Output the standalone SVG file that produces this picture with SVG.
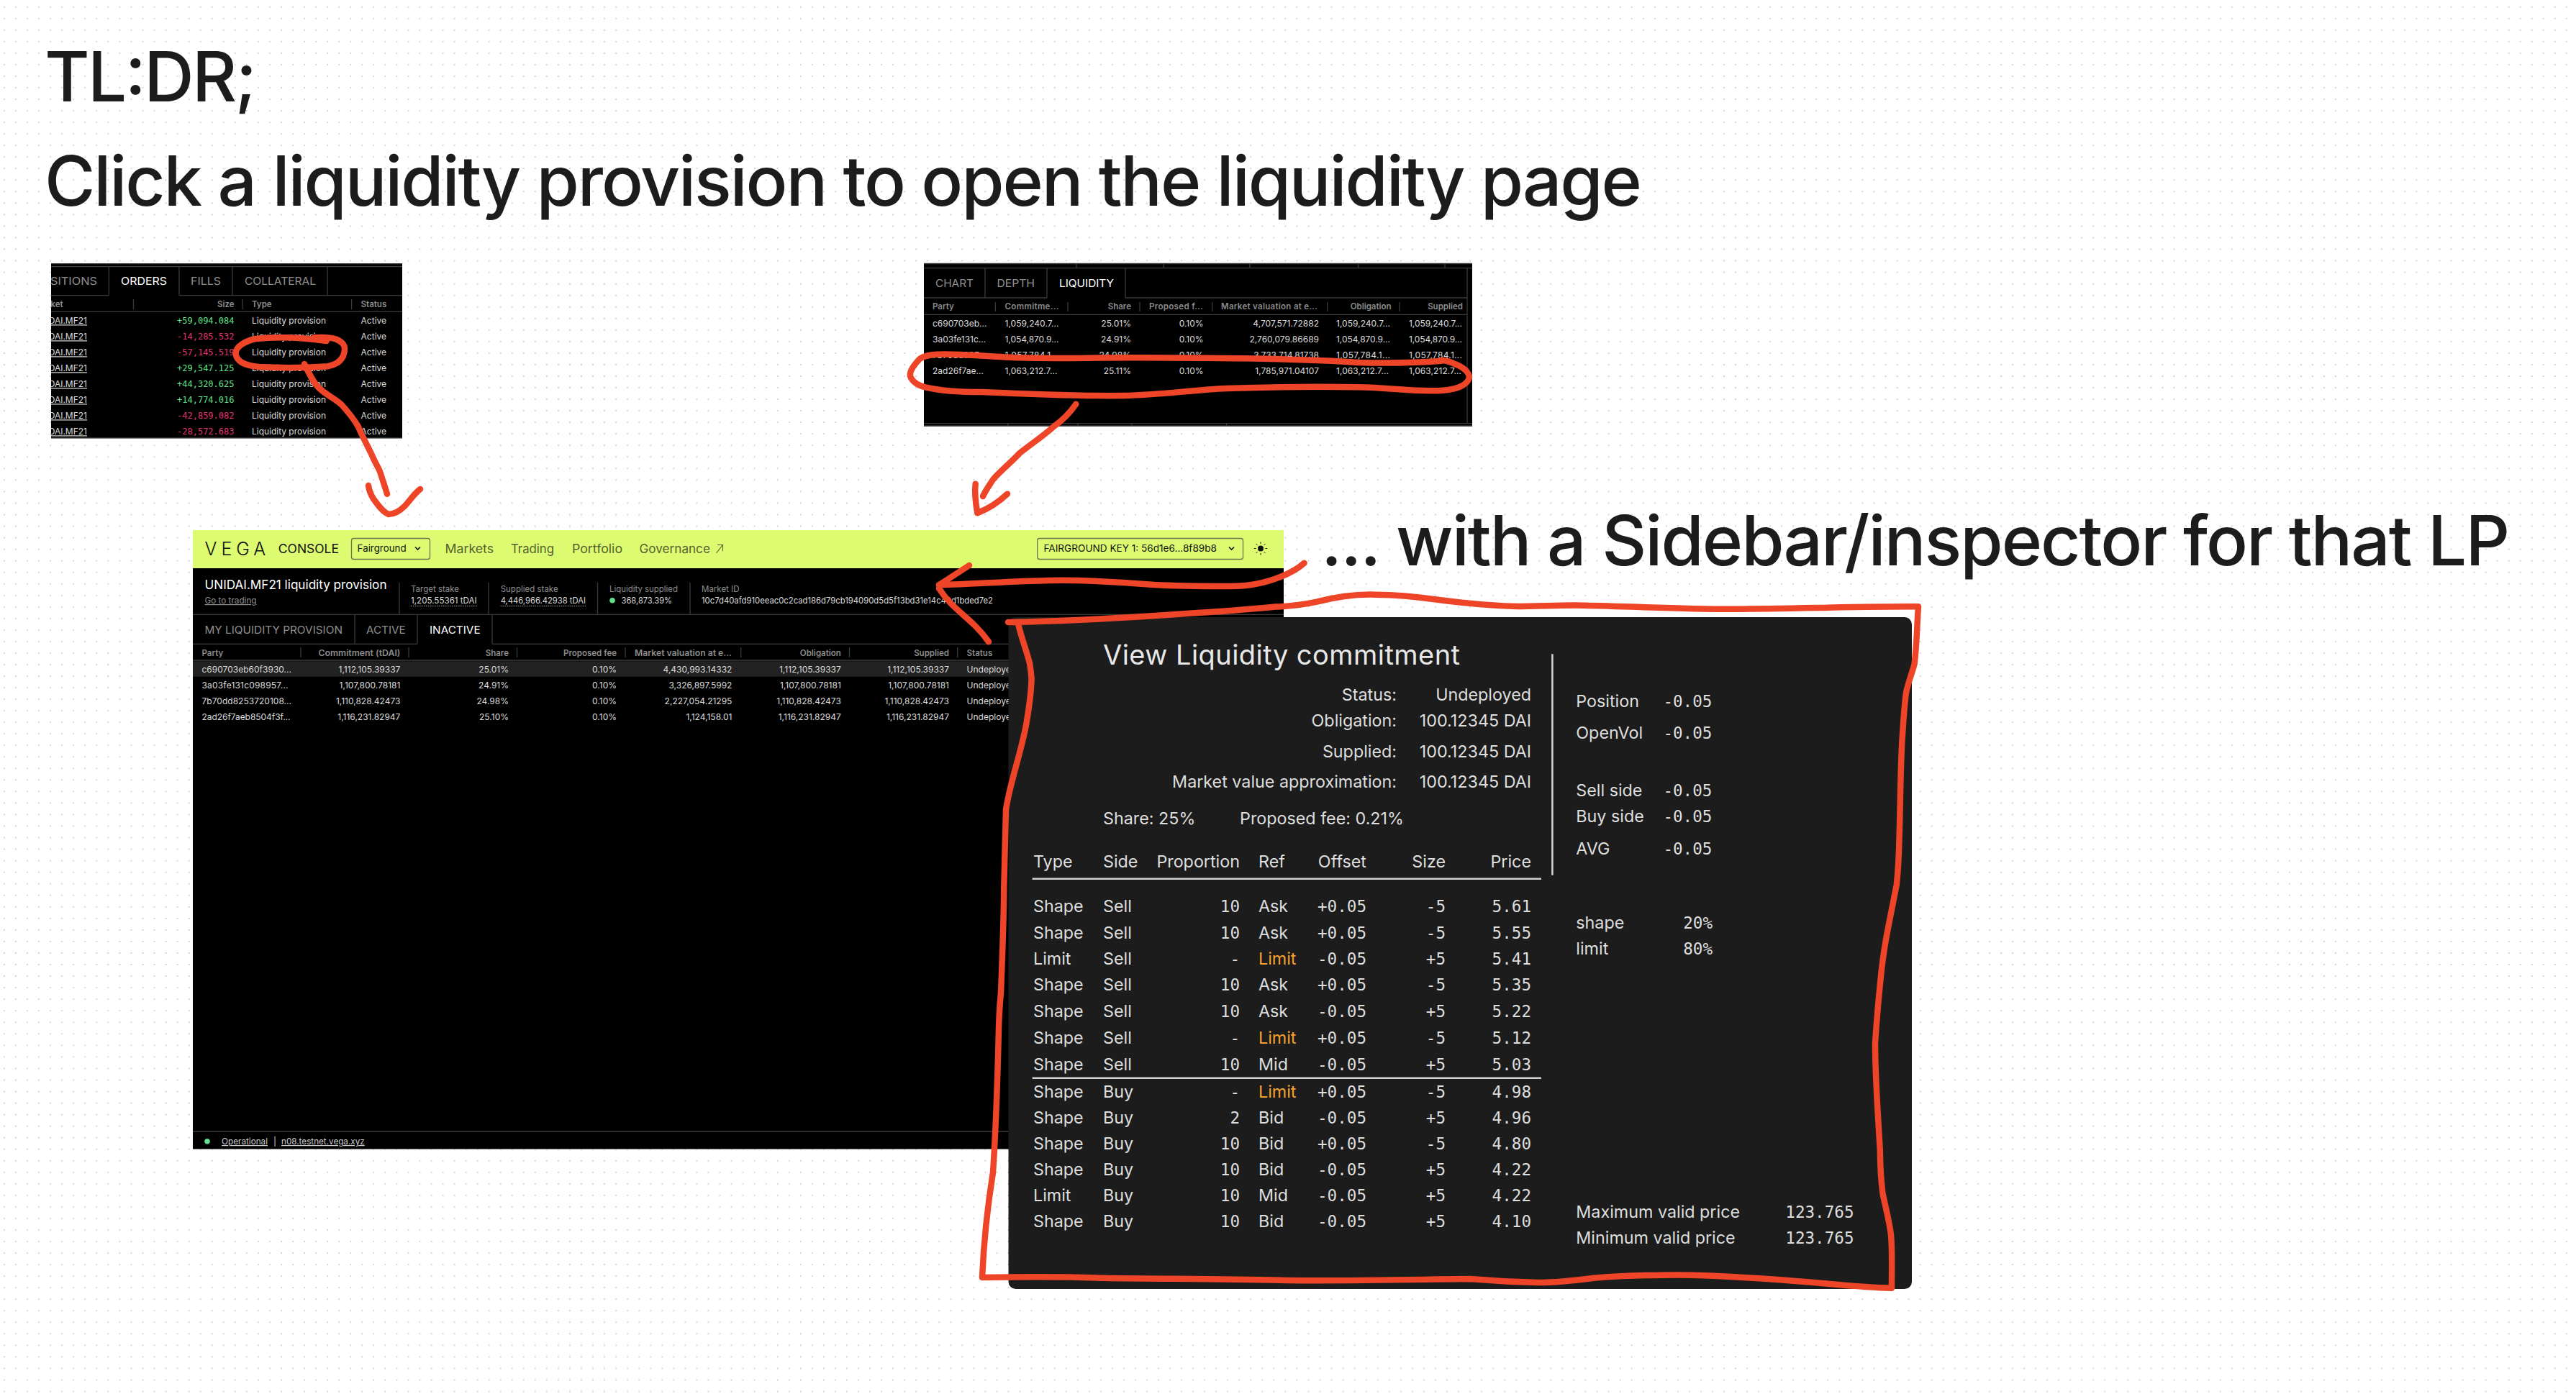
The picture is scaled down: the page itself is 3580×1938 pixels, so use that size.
<svg xmlns="http://www.w3.org/2000/svg" width="3580" height="1938" viewBox="0 0 3580 1938">
<style>
text{font-family:Inter,"Noto Sans",sans-serif}
.h{font-size:96px;fill:#1c1c1c;font-weight:500}
.mono{font-family:"DejaVu Sans Mono",monospace}
.e{text-anchor:end}
.tab{font-size:14px;fill:#8f8f8f}
.tabA{font-size:14px;fill:#fff}
.th{font-size:11.5px;font-weight:600;fill:#8c8c8c}
.td{font-size:12px;fill:#dcdcdc}
.lnk{font-size:12px;fill:#dcdcdc;text-decoration:underline}
.num{font-size:12px}
.g{fill:#5fe08a}
.p{fill:#e0336f}
.nav{font-size:17px;fill:#55602f}
.blk{font-size:13px;fill:#111}
.st{font-size:11.5px;fill:#8f8f8f}
.sv{font-size:11.5px;fill:#dcdcdc}
.m{font-size:23.3px;fill:#dedede}
.n{font-size:22.6px;fill:#dedede;text-anchor:end}
.o{font-size:23.3px;fill:#f5a02c}
.ft{font-size:12px;fill:#ccc}
.pl{stroke:#3a3a3a;stroke-width:1.3;fill:none}
.ln{stroke:#d0d0d0;stroke-width:2.6;fill:none}
.red{fill:none;stroke:#ee4428;stroke-width:8.5;stroke-linecap:round;stroke-linejoin:round}
</style>
<defs>
<pattern id="dots" x="6" y="9.7" width="16.04" height="16.04" patternUnits="userSpaceOnUse"><rect x="-1" y="-1" width="2" height="2" fill="#d4d4d4"/><rect x="15.04" y="-1" width="2" height="2" fill="#d4d4d4"/><rect x="-1" y="15.04" width="2" height="2" fill="#d4d4d4"/><rect x="15.04" y="15.04" width="2" height="2" fill="#d4d4d4"/></pattern>
<clipPath id="c1"><rect x="71" y="366" width="488" height="243.5"/></clipPath>
</defs>
<rect width="3580" height="1938" fill="#fff"/>
<rect width="3580" height="1938" fill="url(#dots)"/>
<g id="title-tldr"><text class="h" x="62" y="140.7" textLength="295">TL:DR;</text></g>
<g id="title-click"><text class="h" x="62" y="285.7" textLength="2220">Click a liquidity provision to open the liquidity page</text></g>
<g id="title-sidebar"><text class="h" x="1836" y="785.7" textLength="1652">... with a Sidebar/inspector for that LP</text></g>

<g id="orders-panel" clip-path="url(#c1)">
<rect x="71" y="366" width="488" height="243.5" fill="#000"/>
<path class="pl" d="M71 366.5H559M71 609H559M71 370.7H559M71 410.7H151.4M249 410.7H559M151.4 370.7V410.7M249 370.7V410.7M323 370.7V410.7M455 370.7V410.7M71 433.3H559M185.5 416V430M337 416V430M488.6 416V430"/>
<text class="tab e" x="135" y="396" textLength="88" lengthAdjust="spacingAndGlyphs">POSITIONS</text>
<text class="tabA" x="168" y="396" textLength="64" lengthAdjust="spacingAndGlyphs">ORDERS</text>
<text class="tab" x="265" y="396" textLength="42" lengthAdjust="spacingAndGlyphs">FILLS</text>
<text class="tab" x="340" y="396" textLength="99" lengthAdjust="spacingAndGlyphs">COLLATERAL</text>
<text class="th e" x="87.5" y="427">Market</text>
<text class="th e" x="325.5" y="427">Size</text>
<text class="th" x="350" y="427">Type</text>
<text class="th" x="501.6" y="427">Status</text>
<text class="lnk e" x="121" y="450.3">UNIDAI.MF21</text><text class="num mono g e" x="325.5" y="450.3">+59,094.084</text><text class="td" x="350" y="450.3" textLength="103">Liquidity provision</text><text class="td" x="501.6" y="450.3">Active</text>
<text class="lnk e" x="121" y="472.3">UNIDAI.MF21</text><text class="num mono p e" x="325.5" y="472.3">-14,285.532</text><text class="td" x="350" y="472.3" textLength="103">Liquidity provision</text><text class="td" x="501.6" y="472.3">Active</text>
<text class="lnk e" x="121" y="494.3">UNIDAI.MF21</text><text class="num mono p e" x="325.5" y="494.3">-57,145.519</text><text class="td" x="350" y="494.3" textLength="103">Liquidity provision</text><text class="td" x="501.6" y="494.3">Active</text>
<text class="lnk e" x="121" y="516.3">UNIDAI.MF21</text><text class="num mono g e" x="325.5" y="516.3">+29,547.125</text><text class="td" x="350" y="516.3" textLength="103">Liquidity provision</text><text class="td" x="501.6" y="516.3">Active</text>
<text class="lnk e" x="121" y="538.3">UNIDAI.MF21</text><text class="num mono g e" x="325.5" y="538.3">+44,320.625</text><text class="td" x="350" y="538.3" textLength="103">Liquidity provision</text><text class="td" x="501.6" y="538.3">Active</text>
<text class="lnk e" x="121" y="560.3">UNIDAI.MF21</text><text class="num mono g e" x="325.5" y="560.3">+14,774.016</text><text class="td" x="350" y="560.3" textLength="103">Liquidity provision</text><text class="td" x="501.6" y="560.3">Active</text>
<text class="lnk e" x="121" y="582.3">UNIDAI.MF21</text><text class="num mono p e" x="325.5" y="582.3">-42,859.082</text><text class="td" x="350" y="582.3" textLength="103">Liquidity provision</text><text class="td" x="501.6" y="582.3">Active</text>
<text class="lnk e" x="121" y="604.3">UNIDAI.MF21</text><text class="num mono p e" x="325.5" y="604.3">-28,572.683</text><text class="td" x="350" y="604.3" textLength="103">Liquidity provision</text><text class="td" x="501.6" y="604.3">Active</text>
</g>

<g id="liquidity-panel">
<rect x="1284" y="366" width="762" height="226.5" fill="#000"/>
<path class="pl" d="M1284 366.5H2046M1284 592H2046M1284 372.7H2046M1496 366V373M1617 366V373M1737 366V373M1887.6 366V373M2008 366V373M1369 373V414M1455 373V414M1564 373V414M1284 414H1455M1564 414H2039M2039 373V588M1284 437.3H2039M1383.4 420V433M1484 420V433M1584 420V433M1684.7 420V433M1844.7 420V433M1945 420V433M1284 588.7H2046M1400.7 589V592M1498 589V592M1572.8 589V592M1704.6 589V592"/>
<text class="tab" x="1300" y="399" textLength="53" lengthAdjust="spacingAndGlyphs">CHART</text>
<text class="tab" x="1385.5" y="399" textLength="52.5" lengthAdjust="spacingAndGlyphs">DEPTH</text>
<text class="tabA" x="1472" y="399" textLength="76" lengthAdjust="spacingAndGlyphs">LIQUIDITY</text>
<text class="th" x="1296" y="430.2">Party</text>
<text class="th" x="1396.5" y="430.2" textLength="75">Commitme...</text>
<text class="th e" x="1572" y="430.2">Share</text>
<text class="th" x="1597" y="430.2" textLength="75">Proposed f...</text>
<text class="th" x="1697" y="430.2" textLength="134">Market valuation at e...</text>
<text class="th e" x="1933.6" y="430.2">Obligation</text>
<text class="th e" x="2033" y="430.2">Supplied</text>
<text class="td" x="1296" y="453.6">c690703eb...</text><text class="td" x="1396.5" y="453.6" textLength="75">1,059,240.7...</text><text class="td e" x="1572" y="453.6">25.01%</text><text class="td e" x="1672.6" y="453.6">0.10%</text><text class="td e" x="1833" y="453.6">4,707,571.72882</text><text class="td" x="1857" y="453.6" textLength="75">1,059,240.7...</text><text class="td" x="1958" y="453.6" textLength="74">1,059,240.7...</text>
<text class="td" x="1296" y="475.6">3a03fe131c...</text><text class="td" x="1396.5" y="475.6" textLength="75">1,054,870.9...</text><text class="td e" x="1572" y="475.6">24.91%</text><text class="td e" x="1672.6" y="475.6">0.10%</text><text class="td e" x="1833" y="475.6">2,760,079.86689</text><text class="td" x="1857" y="475.6" textLength="75">1,054,870.9...</text><text class="td" x="1958" y="475.6" textLength="74">1,054,870.9...</text>
<text class="td" x="1296" y="497.6">7b70dd825...</text><text class="td" x="1396.5" y="497.6" textLength="75">1,057,784.1...</text><text class="td e" x="1572" y="497.6">24.98%</text><text class="td e" x="1672.6" y="497.6">0.10%</text><text class="td e" x="1833" y="497.6">3,733,714.81738</text><text class="td" x="1857" y="497.6" textLength="75">1,057,784.1...</text><text class="td" x="1958" y="497.6" textLength="74">1,057,784.1...</text>
<text class="td" x="1296" y="520">2ad26f7ae...</text><text class="td" x="1396.5" y="520" textLength="73">1,063,212.7...</text><text class="td e" x="1572" y="520">25.11%</text><text class="td e" x="1672.6" y="520">0.10%</text><text class="td e" x="1833" y="520">1,785,971.04107</text><text class="td" x="1857" y="520" textLength="73">1,063,212.7...</text><text class="td" x="1958" y="520" textLength="73">1,063,212.7...</text>
</g>

<g id="console-page">
<rect x="268" y="737" width="1516" height="860.5" fill="#000"/>
<rect x="268" y="737" width="1516" height="53" fill="#dcfb70"/>
<text x="284.6" y="771.5" font-size="25" fill="#111" textLength="84.5" style="font-weight:300">VEGA</text>
<text x="386.8" y="769" font-size="17" fill="#111" textLength="84.2" lengthAdjust="spacingAndGlyphs">CONSOLE</text>
<rect x="488.5" y="748.5" width="109" height="29" rx="3" fill="none" stroke="#6f7550" stroke-width="1.3"/>
<text x="496.6" y="767" class="blk" textLength="68" lengthAdjust="spacingAndGlyphs">Fairground</text>
<path d="M577 760.5l3.5 3.5 3.5-3.5" fill="none" stroke="#111" stroke-width="1.6"/>
<text class="nav" x="618.5" y="768.5" textLength="67.5" lengthAdjust="spacingAndGlyphs">Markets</text>
<text class="nav" x="710" y="768.5" textLength="60" lengthAdjust="spacingAndGlyphs">Trading</text>
<text class="nav" x="795" y="768.5" textLength="70" lengthAdjust="spacingAndGlyphs">Portfolio</text>
<text class="nav" x="888.6" y="768.5" textLength="98.3" lengthAdjust="spacingAndGlyphs">Governance</text>
<path d="M995.5 769L1004.5 757.5M997 757.5H1004.5V766" fill="none" stroke="#55602f" stroke-width="1.1"/>
<rect x="1441.7" y="748.5" width="285.8" height="29" rx="3" fill="none" stroke="#6f7550" stroke-width="1.3"/>
<text class="blk" x="1450.5" y="767" textLength="240.5" lengthAdjust="spacingAndGlyphs">FAIRGROUND KEY 1: 56d1e6...8f89b8</text>
<path d="M1708 760.5l3.5 3.5 3.5-3.5" fill="none" stroke="#111" stroke-width="1.6"/>
<circle cx="1752" cy="762.5" r="4" fill="#111"/>
<path d="M1752 753.5v2.5M1752 769v2.5M1743 762.5h2.5M1758.5 762.5h2.5M1745.6 756l1.8 1.8M1756.6 767l1.8 1.8M1745.6 769l1.8-1.8M1756.6 758l1.8-1.8" stroke="#111" stroke-width="1"/>
<path class="pl" d="M268 854.3H1784M555 810V854M679 810V854M830.5 810V854M959 810V854M268 895.3H580M684 895.3H1784M493 854V895M580 854V895M684 854V895M268 918H1784M418 900V914M568 900V914M718.5 900V914M869 900V914M1029.7 900V914M1180.5 900V914M1330.7 900V914M268 1573H1784"/>
<text x="284.5" y="818.5" font-size="17.8" fill="#fff" textLength="253" lengthAdjust="spacingAndGlyphs">UNIDAI.MF21 liquidity provision</text>
<text x="284.5" y="839" font-size="11.5" fill="#8f8f8f" text-decoration="underline" textLength="72" lengthAdjust="spacingAndGlyphs">Go to trading</text>
<text class="st" x="571" y="823">Target stake</text><text class="sv" x="571" y="839" textLength="91.7" lengthAdjust="spacingAndGlyphs">1,205.55361 tDAI</text>
<path d="M571 842.5H662.7M695.7 842.5H814" stroke="#aaa" stroke-width="1" stroke-dasharray="1.5 1.5"/>
<text class="st" x="695.7" y="823">Supplied stake</text><text class="sv" x="695.7" y="839" textLength="118.3" lengthAdjust="spacingAndGlyphs">4,446,966.42938 tDAI</text>
<text class="st" x="847" y="823" textLength="95" lengthAdjust="spacingAndGlyphs">Liquidity supplied</text><circle cx="851" cy="834.7" r="3.8" fill="#5fe08a"/><text class="sv" x="863.6" y="839" textLength="70.4" lengthAdjust="spacingAndGlyphs">368,873.39%</text>
<text class="st" x="975" y="823">Market ID</text><text class="sv" x="975" y="839" textLength="405" lengthAdjust="spacingAndGlyphs">10c7d40afd910eeac0c2cad186d79cb194090d5d5f13bd31e14c49d1bded7e2</text>
<text class="tab" x="284.5" y="881" textLength="191.5" lengthAdjust="spacingAndGlyphs">MY LIQUIDITY PROVISION</text>
<text class="tab" x="509" y="881" textLength="54.6" lengthAdjust="spacingAndGlyphs">ACTIVE</text>
<text class="tabA" x="597" y="881" textLength="70.6" lengthAdjust="spacingAndGlyphs">INACTIVE</text>
<text class="th" x="280.5" y="911.8">Party</text>
<text class="th e" x="556.4" y="911.8" textLength="114" lengthAdjust="spacingAndGlyphs">Commitment (tDAI)</text>
<text class="th e" x="707" y="911.8">Share</text>
<text class="th e" x="857" y="911.8">Proposed fee</text>
<text class="th" x="882" y="911.8" textLength="135" lengthAdjust="spacingAndGlyphs">Market valuation at e...</text>
<text class="th e" x="1168.8" y="911.8">Obligation</text>
<text class="th e" x="1319" y="911.8">Supplied</text>
<text class="th" x="1343.6" y="911.8">Status</text>
<rect x="268" y="919.3" width="1516" height="21.4" fill="#222"/>
<text class="td" x="280.5" y="934.6" textLength="124.5">c690703eb60f3930...</text><text class="td e" x="556.4" y="934.6">1,112,105.39337</text><text class="td e" x="707" y="934.6">25.01%</text><text class="td e" x="857" y="934.6">0.10%</text><text class="td e" x="1017.4" y="934.6">4,430,993.14332</text><text class="td e" x="1168.8" y="934.6">1,112,105.39337</text><text class="td e" x="1319" y="934.6">1,112,105.39337</text><text class="td" x="1343.6" y="934.6">Undeployed</text>
<text class="td" x="280.5" y="957" textLength="120">3a03fe131c098957...</text><text class="td e" x="556.4" y="957">1,107,800.78181</text><text class="td e" x="707" y="957">24.91%</text><text class="td e" x="857" y="957">0.10%</text><text class="td e" x="1017.4" y="957">3,326,897.5992</text><text class="td e" x="1168.8" y="957">1,107,800.78181</text><text class="td e" x="1319" y="957">1,107,800.78181</text><text class="td" x="1343.6" y="957">Undeployed</text>
<text class="td" x="280.5" y="979" textLength="124.5">7b70dd8253720108...</text><text class="td e" x="556.4" y="979">1,110,828.42473</text><text class="td e" x="707" y="979">24.98%</text><text class="td e" x="857" y="979">0.10%</text><text class="td e" x="1017.4" y="979">2,227,054.21295</text><text class="td e" x="1168.8" y="979">1,110,828.42473</text><text class="td e" x="1319" y="979">1,110,828.42473</text><text class="td" x="1343.6" y="979">Undeployed</text>
<text class="td" x="280.5" y="1001" textLength="123">2ad26f7aeb8504f3f...</text><text class="td e" x="556.4" y="1001">1,116,231.82947</text><text class="td e" x="707" y="1001">25.10%</text><text class="td e" x="857" y="1001">0.10%</text><text class="td e" x="1017.4" y="1001">1,124,158.01</text><text class="td e" x="1168.8" y="1001">1,116,231.82947</text><text class="td e" x="1319" y="1001">1,116,231.82947</text><text class="td" x="1343.6" y="1001">Undeployed</text>
<circle cx="288" cy="1586.7" r="3.8" fill="#5fe08a"/>
<text class="ft" x="308" y="1591" text-decoration="underline" textLength="64" lengthAdjust="spacingAndGlyphs">Operational</text>
<text class="ft" x="380" y="1591">|</text>
<text class="ft" x="391" y="1591" text-decoration="underline" textLength="115.7" lengthAdjust="spacingAndGlyphs">n08.testnet.vega.xyz</text>
</g>

<g id="inspector">
<rect x="1401.5" y="858" width="1255.5" height="934" rx="10" fill="#1c1c1c"/>
<text x="1533" y="924" font-size="38" fill="#e8e8e8" textLength="496">View Liquidity commitment</text>
<text class="m e" x="1941" y="974">Status:</text><text class="m e" x="2128" y="974">Undeployed</text>
<text class="m e" x="1941" y="1010.4">Obligation:</text><text class="m e" x="2128" y="1010.4">100.12345 DAI</text>
<text class="m e" x="1941" y="1052.5">Supplied:</text><text class="m e" x="2128" y="1052.5">100.12345 DAI</text>
<text class="m e" x="1941" y="1095">Market value approximation:</text><text class="m e" x="2128" y="1095">100.12345 DAI</text>
<text class="m" x="1533" y="1145.7">Share: 25%</text><text class="m" x="1723" y="1145.7">Proposed fee: 0.21%</text>
<text class="m" x="1436" y="1206">Type</text><text class="m" x="1533" y="1206">Side</text><text class="m e" x="1723" y="1206">Proportion</text><text class="m" x="1749" y="1206">Ref</text><text class="m e" x="1899" y="1206">Offset</text><text class="m e" x="2009" y="1206">Size</text><text class="m e" x="2128" y="1206">Price</text>
<path class="ln" d="M1434.6 1221.8H2142M1434.6 1498.7H2142M2157.4 909.3V1216.7"/>
<text class="m" x="1436" y="1267.5">Shape</text><text class="m" x="1533" y="1267.5">Sell</text><text class="n mono" x="1723" y="1267.5">10</text><text class="m" x="1749" y="1267.5">Ask</text><text class="n mono" x="1899" y="1267.5">+0.05</text><text class="n mono" x="2009" y="1267.5">-5</text><text class="n mono" x="2128" y="1267.5">5.61</text>
<text class="m" x="1436" y="1305">Shape</text><text class="m" x="1533" y="1305">Sell</text><text class="n mono" x="1723" y="1305">10</text><text class="m" x="1749" y="1305">Ask</text><text class="n mono" x="1899" y="1305">+0.05</text><text class="n mono" x="2009" y="1305">-5</text><text class="n mono" x="2128" y="1305">5.55</text>
<text class="m" x="1436" y="1341">Limit</text><text class="m" x="1533" y="1341">Sell</text><text class="n mono" x="1723" y="1341">-</text><text class="o" x="1749" y="1341">Limit</text><text class="n mono" x="1899" y="1341">-0.05</text><text class="n mono" x="2009" y="1341">+5</text><text class="n mono" x="2128" y="1341">5.41</text>
<text class="m" x="1436" y="1376.8">Shape</text><text class="m" x="1533" y="1376.8">Sell</text><text class="n mono" x="1723" y="1376.8">10</text><text class="m" x="1749" y="1376.8">Ask</text><text class="n mono" x="1899" y="1376.8">+0.05</text><text class="n mono" x="2009" y="1376.8">-5</text><text class="n mono" x="2128" y="1376.8">5.35</text>
<text class="m" x="1436" y="1413.5">Shape</text><text class="m" x="1533" y="1413.5">Sell</text><text class="n mono" x="1723" y="1413.5">10</text><text class="m" x="1749" y="1413.5">Ask</text><text class="n mono" x="1899" y="1413.5">-0.05</text><text class="n mono" x="2009" y="1413.5">+5</text><text class="n mono" x="2128" y="1413.5">5.22</text>
<text class="m" x="1436" y="1451.3">Shape</text><text class="m" x="1533" y="1451.3">Sell</text><text class="n mono" x="1723" y="1451.3">-</text><text class="o" x="1749" y="1451.3">Limit</text><text class="n mono" x="1899" y="1451.3">+0.05</text><text class="n mono" x="2009" y="1451.3">-5</text><text class="n mono" x="2128" y="1451.3">5.12</text>
<text class="m" x="1436" y="1487.7">Shape</text><text class="m" x="1533" y="1487.7">Sell</text><text class="n mono" x="1723" y="1487.7">10</text><text class="m" x="1749" y="1487.7">Mid</text><text class="n mono" x="1899" y="1487.7">-0.05</text><text class="n mono" x="2009" y="1487.7">+5</text><text class="n mono" x="2128" y="1487.7">5.03</text>
<text class="m" x="1436" y="1525.7">Shape</text><text class="m" x="1533" y="1525.7">Buy</text><text class="n mono" x="1723" y="1525.7">-</text><text class="o" x="1749" y="1525.7">Limit</text><text class="n mono" x="1899" y="1525.7">+0.05</text><text class="n mono" x="2009" y="1525.7">-5</text><text class="n mono" x="2128" y="1525.7">4.98</text>
<text class="m" x="1436" y="1561.7">Shape</text><text class="m" x="1533" y="1561.7">Buy</text><text class="n mono" x="1723" y="1561.7">2</text><text class="m" x="1749" y="1561.7">Bid</text><text class="n mono" x="1899" y="1561.7">-0.05</text><text class="n mono" x="2009" y="1561.7">+5</text><text class="n mono" x="2128" y="1561.7">4.96</text>
<text class="m" x="1436" y="1597.7">Shape</text><text class="m" x="1533" y="1597.7">Buy</text><text class="n mono" x="1723" y="1597.7">10</text><text class="m" x="1749" y="1597.7">Bid</text><text class="n mono" x="1899" y="1597.7">+0.05</text><text class="n mono" x="2009" y="1597.7">-5</text><text class="n mono" x="2128" y="1597.7">4.80</text>
<text class="m" x="1436" y="1633.7">Shape</text><text class="m" x="1533" y="1633.7">Buy</text><text class="n mono" x="1723" y="1633.7">10</text><text class="m" x="1749" y="1633.7">Bid</text><text class="n mono" x="1899" y="1633.7">-0.05</text><text class="n mono" x="2009" y="1633.7">+5</text><text class="n mono" x="2128" y="1633.7">4.22</text>
<text class="m" x="1436" y="1669.7">Limit</text><text class="m" x="1533" y="1669.7">Buy</text><text class="n mono" x="1723" y="1669.7">10</text><text class="m" x="1749" y="1669.7">Mid</text><text class="n mono" x="1899" y="1669.7">-0.05</text><text class="n mono" x="2009" y="1669.7">+5</text><text class="n mono" x="2128" y="1669.7">4.22</text>
<text class="m" x="1436" y="1706">Shape</text><text class="m" x="1533" y="1706">Buy</text><text class="n mono" x="1723" y="1706">10</text><text class="m" x="1749" y="1706">Bid</text><text class="n mono" x="1899" y="1706">-0.05</text><text class="n mono" x="2009" y="1706">+5</text><text class="n mono" x="2128" y="1706">4.10</text>
<text class="m" x="2190.3" y="983.3">Position</text><text class="n mono" x="2379.4" y="983.3">-0.05</text>
<text class="m" x="2190.3" y="1026.7">OpenVol</text><text class="n mono" x="2379.4" y="1026.7">-0.05</text>
<text class="m" x="2190.3" y="1106.7">Sell side</text><text class="n mono" x="2379.4" y="1106.7">-0.05</text>
<text class="m" x="2190.3" y="1142.7">Buy side</text><text class="n mono" x="2379.4" y="1142.7">-0.05</text>
<text class="m" x="2190.3" y="1187.7">AVG</text><text class="n mono" x="2379.4" y="1187.7">-0.05</text>
<text class="m" x="2190.3" y="1291">shape</text><text class="n mono" x="2380" y="1291">20%</text>
<text class="m" x="2190.3" y="1326.7">limit</text><text class="n mono" x="2380" y="1326.7">80%</text>
<text class="m" x="2190.3" y="1693.3">Maximum valid price</text><text class="n mono" x="2576.5" y="1693.3">123.765</text>
<text class="m" x="2190.3" y="1729.3">Minimum valid price</text><text class="n mono" x="2576.5" y="1729.3">123.765</text>
</g>

<g id="connectors">
<path class="red" d="M453.7 474C420 469 383 468 355 471C338 475 327 483 327.5 492C329 503 340 508 360 510C395 512 430 511 455.7 509.3C468 507 474 501 477 495C481 484 480 477 467 471.5C455 468 445 469 436.5 469.3"/>
<path class="red" d="M423 506C430 520 436 533 444 540C456 551 466 554 475 563C486 575 492 583 497.8 593C506 612 512 622 517 633C522 645 526 650 528.4 656.7C532 668 535 677 538 686.7"/>
<path class="red" d="M512 675C513 682 515 687 518.8 693.3C525 702 532 712 540 715C548 715 556 710 562.8 703.3C570 695 577 685 584 680"/>
<path class="red" d="M2003.4 501.7C1960 505 1925 505 1887.6 504C1830 500 1780 499 1730.7 498.3C1680 498 1620 497 1573.8 497.3C1520 497 1470 499 1417 497.3C1375 496 1330 491 1301.8 492.7C1285 494 1279 497 1275.7 501.7C1268 510 1264 517 1265 523C1268 531 1277 536 1286 538.3C1310 544 1340 545 1364.6 545C1430 548 1500 551 1563 550C1610 549 1660 542 1704.6 540C1765 538 1825 537 1887.6 538.3C1930 539 1960 544 1992 543.3C2012 543 2026 540 2034 535C2040 531 2042 527 2042 523.3C2040 516 2032 510 2023.6 506.7C2016 503 2010 501 2003.4 500.7"/>
<path class="red" d="M1495.4 561.7C1485 577 1476 585 1464 593.3C1450 606 1432 618 1417 630C1403 645 1390 655 1380 666.7C1374 676 1369 683 1366 690"/>
<path class="red" d="M1355.7 672.7C1354 686 1356 700 1358.3 713.3C1372 708 1388 698 1400 686.7"/>
<path class="red" d="M1812.6 782.7C1802 792 1792 797 1780 801.7C1760 810 1735 815 1710 815C1675 815 1640 815 1604 813C1555 809 1505 806 1457.5 807C1405 808 1355 812 1305 813.3"/>
<path class="red" d="M1347 786L1305 813.3"/>
<path class="red" d="M1305 818C1325 850 1350 858 1374 892.3"/>
<path class="red" d="M1401 865C1480 864 1560 859 1635 854C1685 851 1730 848 1773 843.6C1790 843 1810 841 1830 836.7C1860 829 1885 826 1911 826.7C1945 827 1965 829 1992 833C2030 838 2065 842 2108 843C2140 843 2170 841 2201 841.7C2270 843 2340 847 2410 846.7C2500 846 2590 843 2666 843.3C2664 870 2664 895 2660.6 923C2657 937 2652 948 2649 963C2646 985 2645 1008 2643.4 1030C2641 1075 2641 1120 2639.6 1163C2639 1190 2638 1210 2635.8 1230C2632 1250 2628 1270 2624 1290C2620 1310 2617 1330 2614.7 1350C2611 1385 2608 1420 2606 1450C2606 1500 2610 1550 2612.8 1600C2613 1620 2614 1640 2616.6 1660C2621 1680 2626 1700 2628 1716.7C2630 1740 2629 1765 2629 1790.7C2595 1790 2555 1786 2521 1783C2485 1780 2445 1777 2406 1775C2375 1773 2342 1772 2310.5 1772.7C2280 1773 2245 1774 2215 1776.7C2190 1780 2165 1783 2138 1783C2090 1782 2043 1778 2043 1778C1958 1779 1873 1781 1788 1780C1703 1778 1618 1778 1533 1776.7C1480 1775 1420 1775 1365 1776C1367 1730 1372 1680 1380 1630C1384 1570 1386 1510 1387.6 1446C1388 1420 1389 1400 1391 1380C1393 1330 1395 1280 1395.3 1232.9C1396 1195 1397 1160 1398 1125.7C1400 1112 1403 1100 1405.5 1090C1413 1060 1421 1035 1426 1008C1430 985 1433 965 1433.6 943.6C1433 935 1432 928 1431 922C1426 903 1420 888 1415.7 870"/>
</g>
</svg>
